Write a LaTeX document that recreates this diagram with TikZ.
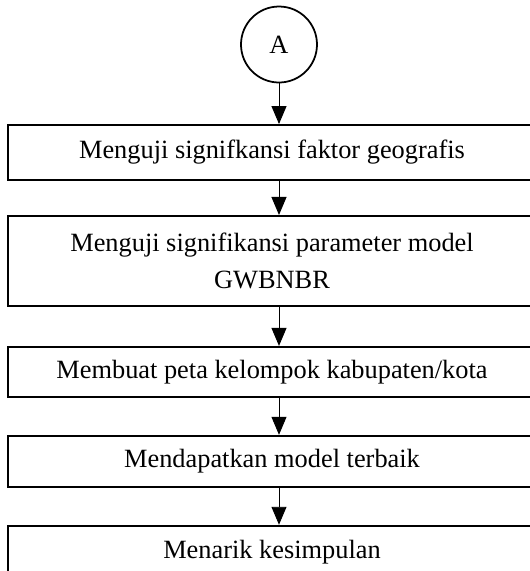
\documentclass[tikz,border=0pt]{standalone}
\usepackage{fontspec}
\setmainfont{Liberation Serif}
\usepackage{tikz}
\usetikzlibrary{arrows.meta, positioning, shapes}

\begin{document}
\begin{tikzpicture}[node distance=7.4mm,
  every node/.style={align=center,font=\fontsize{15}{21}\selectfont},
  stepbox/.style={rectangle,draw,line width=1.1pt,minimum width=10.56cm,inner sep=0pt},
  conn/.style={circle,draw,line width=1pt,minimum size=1.52cm,inner sep=0pt},
  arr/.style={-{Triangle[length=3.6mm,width=3mm]},line width=0.55pt}]
  \useasboundingbox (0,0) rectangle (10.6,-11.42);
  \node[conn] (conA) at (5.58,-0.89) {A};
  \node[stepbox,minimum height=1.1cm] (geo) at (5.44,-3.05) {Menguji signifkansi faktor geografis};
  \node[stepbox,minimum height=1.8cm] (param) [below=6.8mm of geo] {Menguji signifikansi parameter model\\GWBNBR};
  \node[stepbox,minimum height=1cm] (peta) [below=7.8mm of param] {Membuat peta kelompok kabupaten/kota};
  \node[stepbox,minimum height=1.02cm] (best) [below=of peta] {Mendapatkan model terbaik};
  \node[stepbox,minimum height=1.04cm] (simpul) [below=of best] {Menarik kesimpulan};
  \draw[arr] (conA) -- (conA |- geo.north);
  \draw[arr] (conA |- geo.south) -- (conA |- param.north);
  \draw[arr] (conA |- param.south) -- (conA |- peta.north);
  \draw[arr] (conA |- peta.south) -- (conA |- best.north);
  \draw[arr] (conA |- best.south) -- (conA |- simpul.north);
\end{tikzpicture}
\end{document}
